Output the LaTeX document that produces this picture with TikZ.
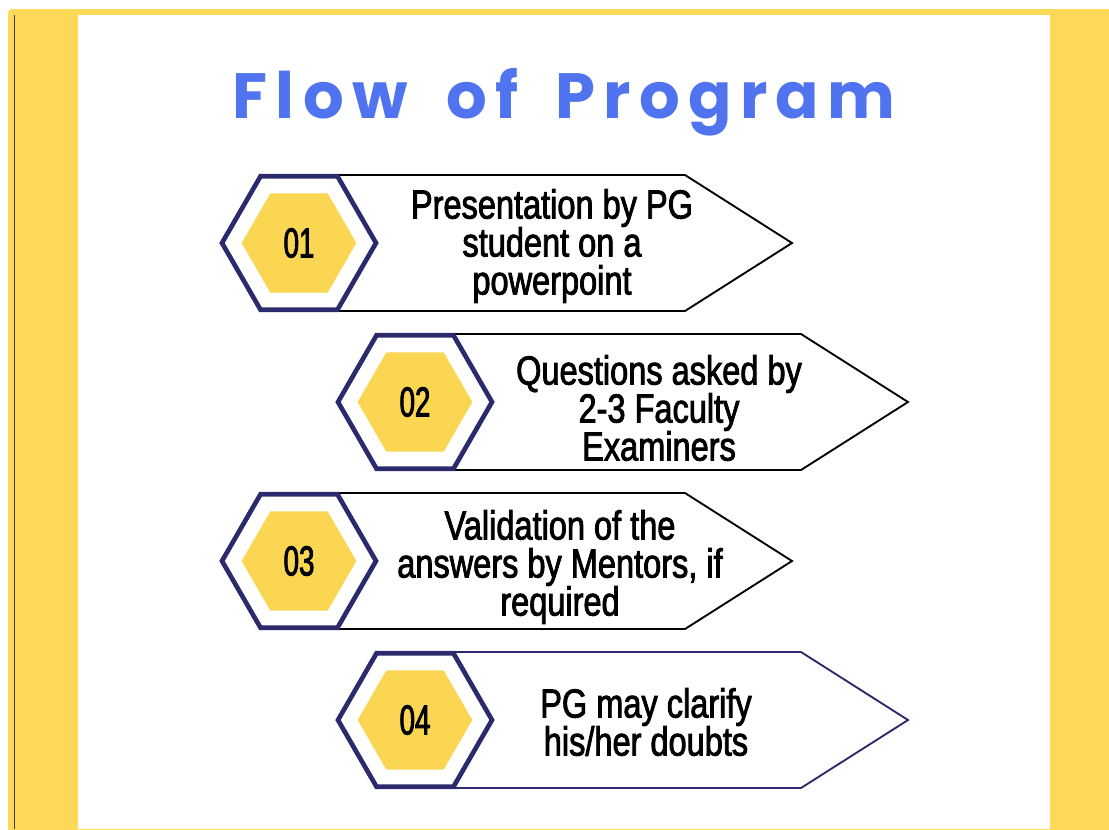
\documentclass[tikz,border=0pt]{standalone}
\usepackage{fontspec}
\usetikzlibrary{shapes.geometric,calc}
\newfontfamily\bodyfont[FakeStretch=0.8,FakeBold=2]{Liberation Sans}
\newfontfamily\numfont[FakeStretch=0.66,FakeBold=2]{Liberation Sans}
\newfontfamily\titlefont[LetterSpace=13]{Poppins}
\definecolor{bgyellow}{HTML}{FDD957}
\definecolor{hexyellow}{HTML}{FBD653}
\definecolor{navy}{HTML}{2A2A6C}
\definecolor{titleblue}{HTML}{5074F0}
\definecolor{edgegray}{HTML}{3C3C3C}
\tikzset{
  outerhex/.style={regular polygon, regular polygon sides=6,
    inner sep=0pt, draw=navy, line width=3.5pt, fill=white},
  innerhex/.style={regular polygon, regular polygon sides=6,
    inner sep=0pt, fill=hexyellow, draw=none, text=black,
    font=\numfont\fontsize{31.5}{31.5}\selectfont},
  boxline/.style={draw=black, line width=1.4pt, line join=miter, fill=white},
  boxlinenavy/.style={draw=navy, line width=1.4pt, line join=miter, fill=white},
  txt/.style={align=center, inner sep=0pt, text=black,
    font=\bodyfont\fontsize{30.5}{28.5}\selectfont},
}
\begin{document}
\begin{tikzpicture}[x=0.75pt,y=-0.75pt]
\useasboundingbox (0,0) rectangle (1109,829);
% background
\fill[white] (0,0) rectangle (1109,829);
\fill[bgyellow, rounded corners=3] (8,9) rectangle (1120,840);
\fill[white] (78,15) rectangle (1050,829);
\draw[edgegray, line width=1.1pt] (14.5,15) -- (14.5,829);
% title
\node[anchor=base, text=titleblue, inner sep=0pt, font=\titlefont\bfseries\fontsize{48}{48}\selectfont]
  (title) at (564,118) {Flow\hspace{13pt} of\hspace{11pt} Program};
% centres
\coordinate (c1) at (299,243);
\coordinate (c2) at (415,402);
\coordinate (c3) at (299,561);
\coordinate (c4) at (415,720);
% boxes
\draw[boxline] (c1) ++(38,-68) -- ++(348,0) -- ++(107,68) -- ++(-107,68) -- ++(-348,0);
\draw[boxline] (c2) ++(38,-68) -- ++(348,0) -- ++(107,68) -- ++(-107,68) -- ++(-348,0);
\draw[boxline] (c3) ++(38,-68) -- ++(348,0) -- ++(107,68) -- ++(-107,68) -- ++(-348,0);
\draw[boxlinenavy] (c4) ++(38,-68) -- ++(348,0) -- ++(107,68) -- ++(-107,68) -- ++(-348,0);
% hexagons
\node[outerhex, minimum size=115.5pt] (h1) at (c1) {};
\node[outerhex, minimum size=115.5pt] (h2) at (c2) {};
\node[outerhex, minimum size=115.5pt] (h3) at (c3) {};
\node[outerhex, minimum size=115.5pt] (h4) at (c4) {};
\node[innerhex, minimum size=86pt] (n1) at (c1) {01};
\node[innerhex, minimum size=86pt] (n2) at (c2) {02};
\node[innerhex, minimum size=86pt] (n3) at (c3) {03};
\node[innerhex, minimum size=86pt] (n4) at (c4) {04};
% texts
\node[txt] (t1) at ($(c1)+(253,3)$) {Presentation by PG\\student on a\\powerpoint};
\node[txt] (t2) at ($(c2)+(244,6)$) {Questions asked by\\2-3 Faculty\\Examiners};
\node[txt] (t3) at ($(c3)+(261,6)$) {Validation of the\\answers by Mentors, if\\required};
\node[txt] (t4) at ($(c4)+(231,2)$) {PG may clarify\\his/her doubts};
\end{tikzpicture}
\end{document}
